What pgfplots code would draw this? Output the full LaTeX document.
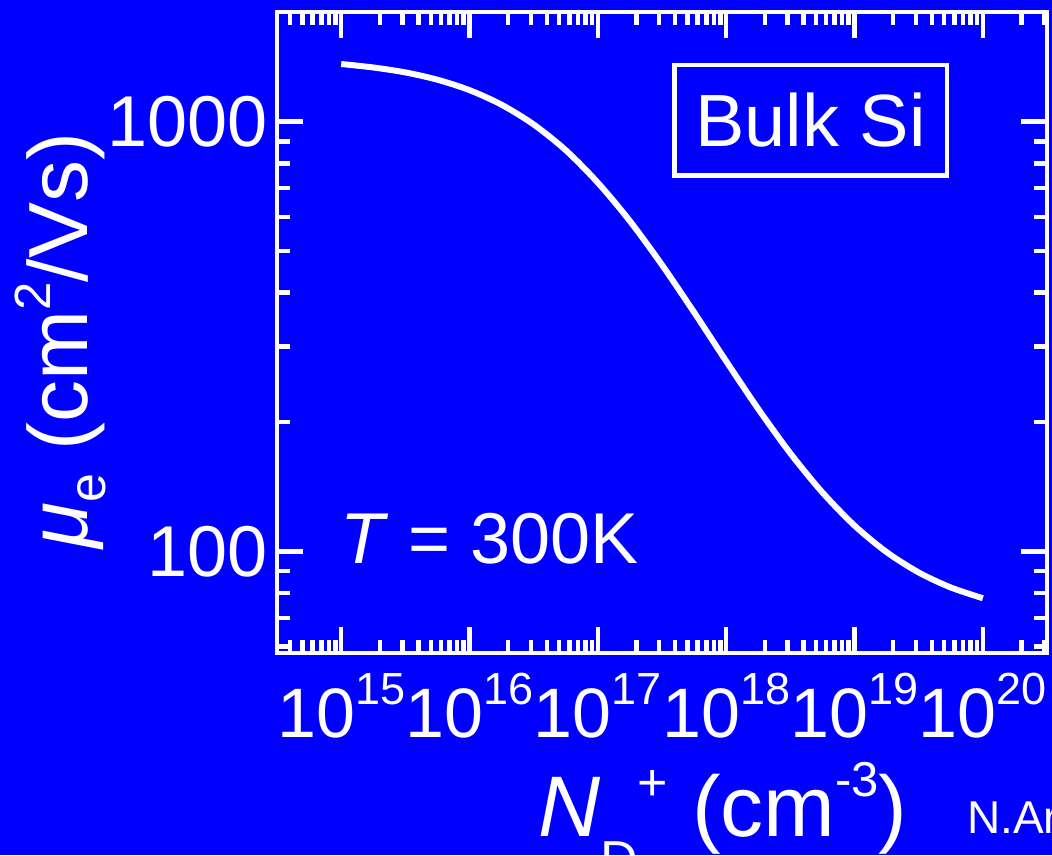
\documentclass[border=0pt]{standalone}
\usepackage{fontspec}
\setmainfont{Liberation Sans}
\usepackage{pgfplots}
\pgfplotsset{compat=1.18}
\definecolor{bg}{RGB}{0,0,255}
\newcommand{\tsup}[1]{\raisebox{33pt}{\fontsize{45}{45}\selectfont #1}}
\begin{document}
\begin{tikzpicture}
\useasboundingbox (0pt,0pt) rectangle (1052pt,855pt);
\fill[bg] (0pt,0pt) rectangle (1052pt,855pt);
\begin{scope}
\clip (0pt,0pt) rectangle (1052pt,855pt);
\begin{axis}[
  at={(277pt,202pt)}, anchor=south west,
  scale only axis, width=770pt, height=641pt,
  xmode=log, ymode=log,
  xmin=3.1623e14, xmax=3.1623e20, ymin=58, ymax=1800,
  axis line style={white, line width=4.5pt},
  tick style={white, line width=4.5pt},
  major tick length=26pt, minor tick length=13pt,
  tick align=inside, xtick pos=both, ytick pos=both,
  xticklabel pos=lower, yticklabel pos=left,
  xtick={1e15,1e16,1e17,1e18,1e19,1e20},
  xticklabels={10\tsup{15},10\tsup{16},10\tsup{17},10\tsup{18},10\tsup{19},10\tsup{20}},
  minor xtick={4e14,5e14,6e14,7e14,8e14,9e14,
    2e15,3e15,4e15,5e15,6e15,7e15,8e15,9e15,
    2e16,3e16,4e16,5e16,6e16,7e16,8e16,9e16,
    2e17,3e17,4e17,5e17,6e17,7e17,8e17,9e17,
    2e18,3e18,4e18,5e18,6e18,7e18,8e18,9e18,
    2e19,3e19,4e19,5e19,6e19,7e19,8e19,9e19,
    2e20,3e20},
  ytick={100,1000}, yticklabels={100,1000},
  minor ytick={60,70,80,90,200,300,400,500,600,700,800,900},
  xticklabel style={text=white, font=\fontsize{70}{78}\selectfont, anchor=base, inner sep=0pt, yshift=-85pt},
  yticklabel style={text=white, font=\fontsize{72}{80}\selectfont, anchor=east, inner sep=0pt, xshift=-9pt},
  xlabel={\textit{N}\raisebox{-41pt}{\fontsize{52}{52}\selectfont D}\raisebox{36pt}{\fontsize{52}{52}\selectfont +} (cm\raisebox{40pt}{\fontsize{49}{49}\selectfont -3})},
  ylabel={\textit{μ}\raisebox{-18pt}{\fontsize{52}{52}\selectfont e} (cm\raisebox{37pt}{\fontsize{51}{51}\selectfont 2}/Vs)},
  xlabel style={text=white, font=\fontsize{86}{94}\selectfont, at={(axis description cs:0.579,-0.287)}, anchor=base, inner sep=0pt},
  ylabel style={text=white, font=\fontsize{84}{92}\selectfont, at={(axis description cs:-0.2455,0.487)}, anchor=base, inner sep=0pt},
]
\addplot[white, line width=6pt, smooth] coordinates {
(1e15,1362) (1.778e15,1337) (3.162e15,1302) (5.623e15,1252)
(1e16,1184) (1.778e16,1095) (3.162e16,985) (5.623e16,858)
(1e17,721) (1.778e17,587) (3.162e17,464) (5.623e17,360)
(1e18,277) (1.778e18,214.5) (3.162e18,169.1) (5.623e18,137.1)
(1e19,114.8) (1.778e19,99.6) (3.162e19,89.3) (5.623e19,82.4)
(1e20,77.8)
};
\end{axis}
\node[draw=white, line width=4.5pt, text=white, minimum width=272.5pt, minimum height=110.5pt, inner sep=0pt, font=\fontsize{74}{80}\selectfont] at (810.5pt,734.5pt) {Bulk Si};
\node[text=white, anchor=base west, inner sep=0pt, font=\fontsize{72}{80}\selectfont] at (340pt,292pt) {\textit{T} = 300K};
\node[text=white, anchor=base west, inner sep=0pt, font=\fontsize{46}{50}\selectfont] at (967pt,22pt) {N.Arora};
\end{scope}
\end{tikzpicture}
\end{document}
